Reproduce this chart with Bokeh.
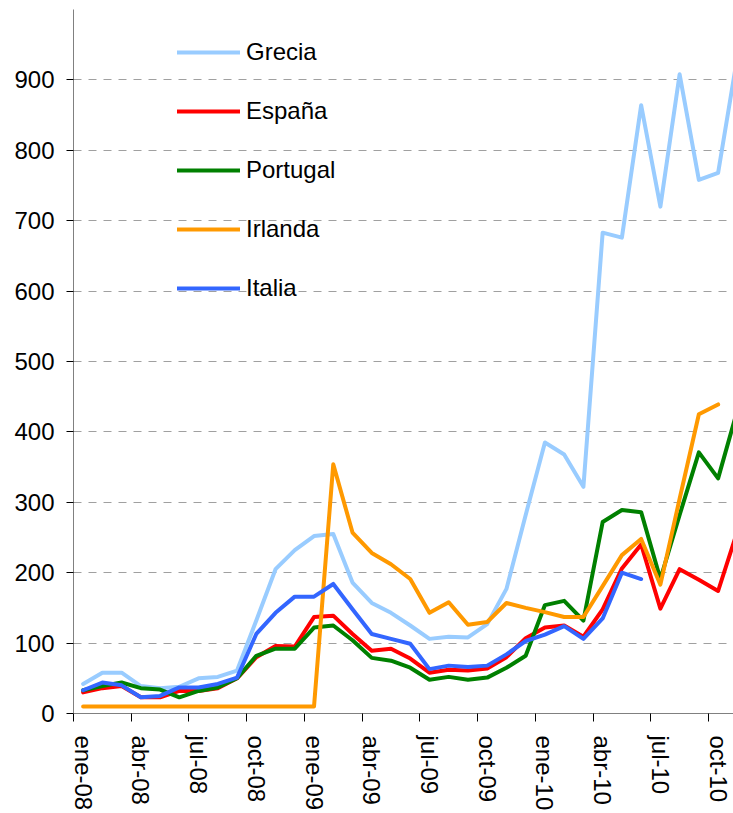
import numpy as np
from bokeh.plotting import figure
from bokeh.models import FixedTicker, Legend, LegendItem, Range1d, LinearAxis
from bokeh.embed import file_html
from bokeh.resources import INLINE

# Monthly values, ene-08 ... nov-10
grecia = [42, 58, 58, 39, 36, 38, 50, 52, 61, 132, 205, 232, 252, 255, 186, 157, 143, 125,
          106, 109, 108, 127, 177, 282, 385, 368, 322, 683, 676, 864, 720, 908, 758, 768, 933]
espana = [30, 36, 39, 23, 23, 32, 32, 36, 50, 80, 96, 95, 137, 139, 113, 89, 92, 78,
          58, 62, 61, 64, 80, 107, 122, 125, 109, 148, 206, 240, 149, 205, 190, 174, 259]
portugal = [33, 39, 44, 36, 34, 23, 32, 37, 50, 82, 92, 92, 122, 125, 104, 79, 75, 65,
            48, 52, 48, 51, 65, 82, 154, 160, 132, 272, 289, 286, 191, 282, 371, 334, 431]
irlanda = [10, 10, 10, 10, 10, 10, 10, 10, 10, 10, 10, 10, 10, 354, 257, 228, 212, 191,
           143, 158, 126, 130, 157, 150, 144, 137, 137, 181, 225, 248, 183, 305, 425, 439]
italia = [33, 44, 40, 23, 25, 37, 37, 42, 51, 113, 143, 166, 166, 184, 148, 113, 106, 99,
          63, 68, 66, 68, 84, 103, 112, 124, 106, 135, 200, 191]

series_names = ["Grecia", "España", "Portugal", "Irlanda", "Italia"]
series_values = [grecia, espana, portugal, irlanda, italia]
series_colors = ["#99CCFF", "#FF0000", "#008000", "#FF9900", "#3366FF"]

tick_months = [0, 3, 6, 9, 12, 15, 18, 21, 24, 27, 30, 33]
tick_labels = ["ene-08", "abr-08", "jul-08", "oct-08", "ene-09", "abr-09",
               "jul-09", "oct-09", "ene-10", "abr-10", "jul-10", "oct-10"]
y_ticks = [0, 100, 200, 300, 400, 500, 600, 700, 800, 900]

FONT = "Liberation Sans"

p = figure(width=733, height=813, output_backend="svg", toolbar_location=None,
           x_range=Range1d(0, 34.3), y_range=Range1d(0, 1000),
           min_border_left=73, min_border_right=0, min_border_top=9, min_border_bottom=98)
p.outline_line_color = None
p.background_fill_color = "white"
p.border_fill_color = "white"

items = []
for name, vals, col in zip(series_names, series_values, series_colors):
    xs = np.arange(len(vals)) + 0.5  # centre of each month
    r = p.line(xs, vals, line_color=col, line_width=4, line_join="round", line_cap="round")
    items.append(LegendItem(label=name, renderers=[r]))

# y axis
p.yaxis.ticker = FixedTicker(ticks=y_ticks)
p.yaxis.major_label_standoff = 12

# x axis: tick marks at month boundaries (no labels)
xa = p.xaxis[0]
xa.ticker = FixedTicker(ticks=tick_months)
xa.major_label_overrides = {m: "" for m in tick_months}
xa.major_label_standoff = 0
xa.major_tick_out = 8

# second x axis: labels centred on the months
label_pos = [m + 0.5 for m in tick_months]
xl = LinearAxis(ticker=FixedTicker(ticks=label_pos),
                major_label_overrides={m: l for m, l in zip(label_pos, tick_labels)},
                major_label_orientation="vertical")
xl.axis_line_color = None
xl.major_tick_line_color = None
xl.major_tick_in = 0
xl.major_tick_out = 0
xl.minor_tick_line_color = None
xl.major_label_standoff = 14
p.add_layout(xl, "below")

for ax in (xa, p.yaxis[0], xl):
    ax.major_label_text_font = FONT
    ax.major_label_text_font_size = "24px"
    ax.major_label_text_color = "black"
for ax in (xa, p.yaxis[0]):
    ax.axis_line_color = "#808080"
    ax.axis_line_width = 1
    ax.major_tick_line_color = "black"
    ax.major_tick_in = 0
    ax.minor_tick_line_color = None
p.yaxis.major_tick_out = 7

p.xgrid.grid_line_color = None
p.ygrid.grid_line_color = "#A0A0A0"
p.ygrid.grid_line_dash = "8 7"
p.ygrid.grid_line_width = 1

legend = Legend(items=items, location=(104, 405), orientation="vertical")
legend.border_line_color = None
legend.background_fill_alpha = 0
legend.padding = 0
legend.margin = 0
legend.glyph_width = 63
legend.glyph_height = 40
legend.label_height = 40
legend.spacing = 19
legend.label_standoff = 6
legend.label_text_font = FONT
legend.label_text_font_size = "24px"
legend.label_text_color = "black"
p.add_layout(legend, "center")

open("out.html", "w").write(file_html(p, INLINE))
